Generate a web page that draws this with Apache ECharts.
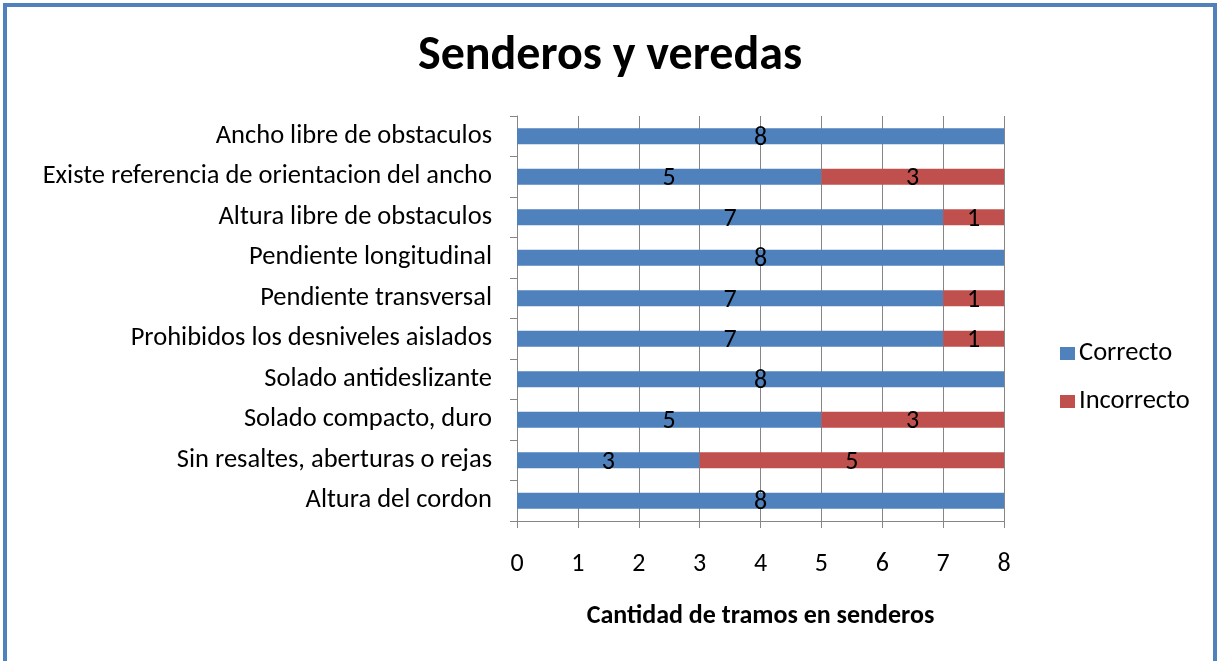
<!DOCTYPE html>
<html>
<head>
<meta charset="utf-8">
<script src="https://cdn.jsdelivr.net/npm/echarts@6/dist/echarts.min.js"></script>
<style>
  html, body { margin: 0; padding: 0; background: #fff; }
  #frame {
    position: absolute; left: 3px; top: 3px; width: 1214px; height: 720px;
    border: 4px solid #4F81BD; box-sizing: border-box;
  }
  #main { position: absolute; left: 0; top: 0; width: 1220px; height: 661px; }
</style>
</head>
<body>
<div id="frame"></div>
<div id="main"></div>
<script>
// top to bottom
const categories = [
  'Ancho libre de obstaculos',
  'Existe referencia de orientacion del ancho',
  'Altura libre de obstaculos',
  'Pendiente longitudinal',
  'Pendiente transversal',
  'Prohibidos los desniveles aislados',
  'Solado antideslizante',
  'Solado compacto, duro',
  'Sin resaltes, aberturas o rejas',
  'Altura del cordon'
];
const correcto = [8, 5, 7, 8, 7, 7, 8, 5, 3, 8];
const incorrecto = [0, 3, 1, 0, 1, 1, 0, 3, 5, 0];
const xTicks = [0, 1, 2, 3, 4, 5, 6, 7, 8];

const font = 'Carlito, "Liberation Sans Narrow", "Open Sans", sans-serif';
const gray = '#868686';

const chart = echarts.init(document.getElementById('main'));

function barSeries(name, data, color) {
  return {
    name: name,
    type: 'bar',
    stack: 'total',
    barWidth: 16,
    data: data,
    itemStyle: { color: color },
    label: {
      show: true,
      position: 'inside',
      color: '#000',
      fontFamily: font,
      fontSize: 26,
      offset: [0, 2],
      formatter: p => (p.value ? p.value : '')
    }
  };
}

chart.setOption({
  animation: false,
  title: {
    text: 'Senderos y veredas',
    left: 'center',
    top: 28,
    textStyle: { fontFamily: font, fontSize: 48, fontWeight: 'bold', color: '#000' }
  },
  legend: {
    orient: 'vertical',
    left: 1055,
    top: 335,
    itemWidth: 15,
    itemHeight: 13,
    itemGap: 21,
    icon: 'rect',
    textStyle: { fontFamily: font, fontSize: 26.5, color: '#000', padding: [0, 0, 0, -1] }
  },
  grid: { left: 517, right: 216, top: 116, bottom: 140 },
  xAxis: {
    type: 'value',
    min: xTicks[0],
    max: xTicks[xTicks.length - 1],
    interval: 1,
    name: 'Cantidad de tramos en senderos',
    nameLocation: 'middle',
    nameGap: 82,
    nameTextStyle: { fontFamily: font, fontSize: 26, fontWeight: 'bold', color: '#000' },
    axisLine: { show: true, lineStyle: { color: gray } },
    axisTick: { show: true, length: 7, lineStyle: { color: gray } },
    axisLabel: { fontFamily: font, fontSize: 26, color: '#000', margin: 30 },
    splitLine: { show: true, lineStyle: { color: gray } }
  },
  yAxis: {
    type: 'category',
    inverse: true,
    data: categories,
    axisLine: { show: true, lineStyle: { color: gray } },
    axisTick: { show: true, length: 7, alignWithLabel: false, lineStyle: { color: gray } },
    axisLabel: { fontFamily: font, fontSize: 26.5, color: '#000', margin: 25 }
  },
  series: [
    barSeries('Correcto', correcto, '#4F81BD'),
    barSeries('Incorrecto', incorrecto, '#C0504D')
  ]
});
</script>
</body>
</html>
